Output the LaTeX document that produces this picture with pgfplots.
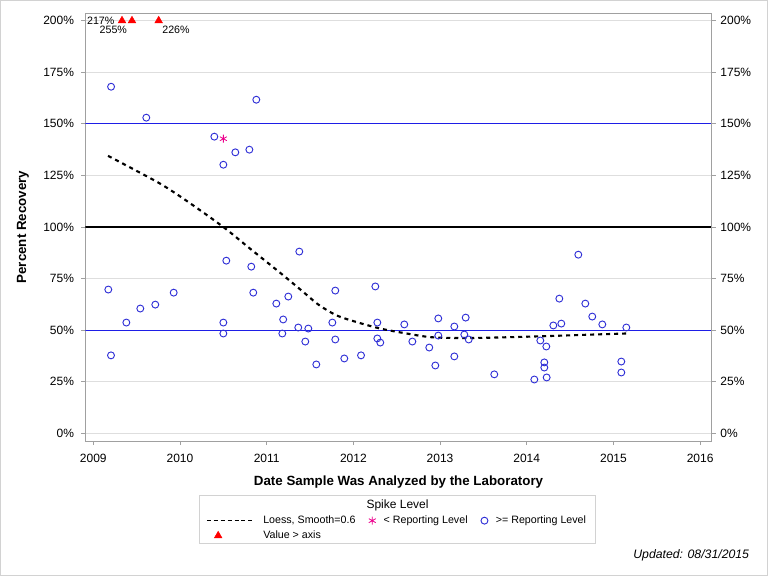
\documentclass[border=0pt]{standalone}
\usepackage{fontspec}
\setmainfont{Liberation Sans}
\usepackage{pgfplots}
\pgfplotsset{compat=1.18}
\usetikzlibrary{fit}
\definecolor{ptblue}{RGB}{48,48,214}
\definecolor{refblue}{RGB}{30,30,230}
\definecolor{framegray}{RGB}{160,160,160}
\definecolor{gridgray}{RGB}{222,222,222}
\begin{document}
\begin{tikzpicture}
\useasboundingbox (0,0) rectangle (576pt,432pt);
\draw[gray!35, line width=0.75pt] (0.375pt,0.375pt) rectangle (575.625pt,431.625pt);
\begin{axis}[
  at={(64pt,101.25pt)}, anchor=south west,
  scale only axis, width=469.8pt, height=320.8pt,
  xmin=2008.908, xmax=2016.133, ymin=-3.7, ymax=203.6,
  xtick={2009,...,2016}, ytick={0,25,...,200},
  xtick pos=bottom, ytick pos=left,
  tick align=outside, major tick length=3pt,
  every tick/.style={framegray, line width=0.6pt},
  axis line style={framegray, line width=0.75pt},
  ymajorgrids, grid style={gridgray, line width=0.6pt},
  /pgf/number format/assume math mode=true,
  /pgf/number format/1000 sep={},
  yticklabel={\pgfmathprintnumber{\tick}\%},
  tick label style={font=\fontsize{9}{10}\selectfont},
  xticklabel style={yshift=-3pt},
  yticklabel style={xshift=-2pt},
  xlabel={\bfseries Date Sample Was Analyzed by the Laboratory},
  ylabel={\bfseries Percent Recovery},
  label style={font=\fontsize{10}{11}\selectfont},
  xlabel style={at={(axis description cs:0.5,-0.097)}, anchor=center},
  ylabel style={at={(axis description cs:-0.0995,0.5)}, anchor=center},
  legend columns=3,
  legend cell align=left,
  legend style={name=leg, at={(axis description cs:0.4984,-0.168)}, anchor=north,
    draw=none, fill=none, font=\fontsize{8}{9}\selectfont, inner sep=0pt,
    /tikz/every even column/.append style={column sep=8pt},
    /tikz/every odd column/.append style={column sep=4pt},
    row sep=0pt},
]
\addplot[refblue, line width=0.8pt, forget plot] coordinates {(2008.5,50) (2016.5,50)};
\addplot[refblue, line width=0.8pt, forget plot] coordinates {(2008.5,150) (2016.5,150)};
\addplot[black, line width=1.5pt, forget plot] coordinates {(2008.5,100) (2016.5,100)};
% Loess
\addplot[black, line width=1.6pt, dash pattern=on 3pt off 3pt, smooth,
  legend image code/.code={\draw[black, line width=0.7pt, dash pattern=on 3pt off 2.2pt] (0cm,0cm) -- (36pt,0cm);}]
  coordinates {
  (2009.17,134.5) (2009.5,127.2) (2009.8,120.3) (2010.1,112.0) (2010.5,100.0)
  (2010.8,89.8) (2011.15,78.0) (2011.4,69.3) (2011.6,62.3) (2011.8,57.3)
  (2012.0,54.4) (2012.3,50.9) (2012.6,48.5) (2012.9,46.6) (2013.3,46.2)
  (2013.7,46.5) (2014.2,47.1) (2014.7,47.8) (2015.15,48.4)};
\addlegendentry{Loess, Smooth=0.6}
% below reporting level
\addplot[only marks, mark=asterisk, magenta, mark size=3pt, line width=0.6pt]
  coordinates {(2010.5,142.8)};
\addlegendentry{< Reporting Level}
% at or above reporting level
\addplot[only marks, mark=o, ptblue, mark size=2.6pt, line width=0.7pt]
  table[row sep=\\] {
x y\\
2009.173 69.7\\ 2009.204 37.8\\ 2009.205 168.0\\ 2009.381 53.7\\
2009.542 60.5\\ 2009.611 153.0\\ 2009.715 62.4\\ 2009.927 68.2\\
2010.396 143.8\\ 2010.500 130.2\\ 2010.500 53.7\\ 2010.500 48.4\\
2010.534 83.7\\ 2010.638 136.2\\ 2010.800 137.5\\ 2010.822 80.8\\
2010.845 68.2\\ 2010.880 161.7\\ 2011.111 62.9\\ 2011.180 48.4\\
2011.190 55.2\\ 2011.249 66.3\\ 2011.364 51.3\\ 2011.376 88.1\\
2011.445 44.5\\ 2011.480 50.8\\ 2011.572 33.4\\ 2011.757 53.7\\
2011.791 69.2\\ 2011.791 45.5\\ 2011.895 36.3\\ 2012.088 37.8\\
2012.253 71.2\\ 2012.276 53.7\\ 2012.276 46.0\\ 2012.310 44.0\\
2012.587 52.8\\ 2012.680 44.5\\ 2012.875 41.6\\ 2012.945 32.9\\
2012.979 55.7\\ 2012.979 47.4\\ 2013.164 51.8\\ 2013.164 37.3\\
2013.279 47.9\\ 2013.295 56.1\\ 2013.330 45.5\\ 2013.625 28.6\\
2014.087 26.1\\ 2014.156 45.0\\ 2014.202 34.4\\ 2014.202 31.9\\
2014.225 42.1\\ 2014.229 27.1\\ 2014.306 52.3\\ 2014.375 65.3\\
2014.398 53.2\\ 2014.594 86.6\\ 2014.675 62.9\\ 2014.755 56.6\\
2014.871 52.8\\ 2015.090 34.8\\ 2015.090 29.5\\ 2015.148 51.3\\
};
\addlegendentry{>= Reporting Level}
% values above axis
\addplot[only marks, mark=triangle*, red, mark size=3.3pt]
  coordinates {(2009.331,200) (2009.446,200) (2009.754,200)};
\addlegendentry{Value > axis}
\node[font=\fontsize{8}{9}\selectfont, anchor=east, inner sep=0pt] at ([xshift=-5.5pt]axis cs:2009.331,200) {217\%};
\node[font=\fontsize{8}{9}\selectfont, anchor=center, inner sep=0pt] at ([xshift=-14pt,yshift=-6.5pt]axis cs:2009.446,200) {255\%};
\node[font=\fontsize{8}{9}\selectfont, anchor=center, inner sep=0pt] at ([xshift=13pt,yshift=-6.5pt]axis cs:2009.754,200) {226\%};
\end{axis}
\begin{axis}[
  at={(64pt,101.25pt)}, anchor=south west,
  scale only axis, width=469.8pt, height=320.8pt,
  xmin=2008.908, xmax=2016.133, ymin=-3.7, ymax=203.6,
  axis x line=none, axis y line*=right,
  ytick={0,25,...,200},
  tick align=outside, major tick length=3pt,
  every tick/.style={framegray, line width=0.6pt},
  axis line style={framegray, line width=0.75pt, -},
  /pgf/number format/assume math mode=true,
  yticklabel={\pgfmathprintnumber{\tick}\%},
  tick label style={font=\fontsize{9}{10}\selectfont},
]
\end{axis}
\node[font=\fontsize{9}{10}\selectfont, anchor=south, inner xsep=1pt, inner ysep=3pt] (ttl) at ([yshift=-1.5pt]leg.north) {Spike Level};
\node[draw=gray!35, line width=0.75pt, fit=(leg)(ttl), inner xsep=5pt, inner ysep=0pt] {};
\node[font=\fontsize{9.2}{10}\selectfont\itshape, anchor=east, inner sep=0pt] at (562pt,15.75pt) {Updated: 08/31/2015};
\end{tikzpicture}
\end{document}
